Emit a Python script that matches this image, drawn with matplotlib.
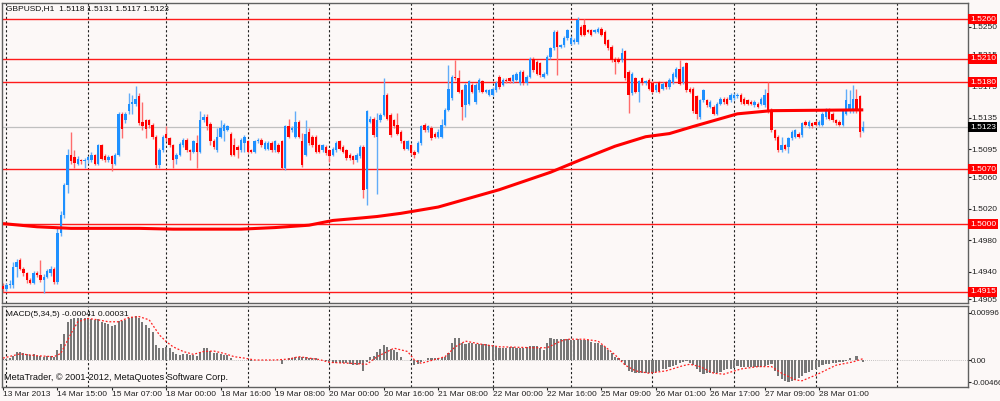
import matplotlib
matplotlib.use('Agg')
import matplotlib.pyplot as plt
import numpy as np

plt.rcParams['font.family'] = ['Liberation Sans', 'DejaVu Sans']

# GBPUSD H1 candles, prices in 1/10000 (bar 0 = 13 Mar 2013 23:00)
opens = [14922, 14918, 14923, 14923, 14946, 14955, 14944, 14938, 14930, 14926,
         14939, 14936, 14929, 14934, 14938, 14944, 14927, 14989, 15012, 15050,
         15088, 15085, 15077, 15082, 15080, 15081, 15081, 15088, 15077, 15100,
         15087, 15081, 15086, 15077, 15088, 15140, 15132, 15143, 15153, 15153,
         15163, 15130, 15132, 15132, 15126, 15111, 15075, 15094, 15115, 15109,
         15100, 15083, 15088, 15100, 15107, 15094, 15092, 15103, 15092, 15132,
         15136, 15127, 15105, 15094, 15111, 15118, 15120, 15115, 15100, 15098,
         15094, 15103, 15105, 15094, 15092, 15105, 15107, 15096, 15096, 15103,
         15094, 15100, 15105, 15071, 15124, 15119, 15111, 15130, 15105, 15088,
         15117, 15111, 15111, 15100, 15094, 15098, 15094, 15088, 15094, 15105,
         15098, 15094, 15088, 15086, 15081, 15086, 15098, 15045, 15130, 15134,
         15111, 15132, 15139, 15164, 15139, 15132, 15126, 15117, 15105, 15096,
         15100, 15092, 15092, 15103, 15126, 15119, 15122, 15115, 15111, 15111,
         15126, 15145, 15160, 15187, 15185, 15170, 15151, 15153, 15177, 15155,
         15170, 15181, 15168, 15164, 15164, 15170, 15187, 15177, 15183, 15185,
         15181, 15183, 15179, 15193, 15179, 15187, 15210, 15206, 15204, 15187,
         15191, 15212, 15223, 15244, 15225, 15227, 15236, 15229, 15231, 15231,
         15250, 15252, 15246, 15246, 15244, 15244, 15248, 15244, 15233, 15225,
         15210, 15210, 15208, 15219, 15193, 15166, 15185, 15168, 15185, 15179,
         15183, 15179, 15170, 15180, 15172, 15180, 15174, 15180, 15187, 15197,
         15180, 15204, 15172, 15172, 15162, 15136, 15157, 15157, 15149, 15149,
         15140, 15153, 15159, 15159, 15157, 15160, 15162, 15164, 15159, 15157,
         15155, 15151, 15153, 15153, 15151, 15166, 15145, 15119, 15111, 15094,
         15100, 15098, 15109, 15111, 15115, 15113, 15130, 15124, 15128, 15130,
         15126, 15126, 15136, 15145, 15140, 15132, 15130, 15126, 15140, 15143,
         15143, 15159, 15162, 15118]
highs = [14926, 14926, 14930, 14952, 14956, 14957, 14946, 14940, 14932, 14941,
         14941, 14955, 14937, 14944, 14947, 14946, 14997, 15017, 15052, 15095,
         15117, 15094, 15086, 15083, 15084, 15087, 15092, 15089, 15102, 15102,
         15089, 15088, 15088, 15090, 15142, 15142, 15142, 15166, 15164, 15175,
         15166, 15155, 15134, 15134, 15128, 15113, 15097, 15113, 15124, 15111,
         15102, 15090, 15104, 15110, 15110, 15096, 15107, 15113, 15143, 15140,
         15140, 15130, 15108, 15122, 15132, 15128, 15126, 15117, 15110, 15100,
         15109, 15113, 15107, 15096, 15107, 15109, 15109, 15105, 15105, 15105,
         15107, 15103, 15107, 15126, 15134, 15124, 15143, 15132, 15116, 15132,
         15122, 15113, 15113, 15102, 15102, 15100, 15096, 15098, 15105, 15107,
         15100, 15096, 15090, 15088, 15090, 15100, 15100, 15145, 15137, 15136,
         15141, 15141, 15185, 15166, 15141, 15134, 15141, 15119, 15107, 15107,
         15102, 15094, 15105, 15126, 15128, 15126, 15124, 15117, 15121, 15134,
         15147, 15202, 15189, 15208, 15196, 15172, 15179, 15183, 15179, 15179,
         15185, 15183, 15172, 15172, 15174, 15181, 15189, 15185, 15185, 15187,
         15191, 15193, 15195, 15195, 15189, 15212, 15212, 15208, 15206, 15193,
         15214, 15225, 15246, 15246, 15229, 15238, 15248, 15238, 15236, 15262,
         15252, 15260, 15248, 15248, 15248, 15250, 15250, 15246, 15235, 15227,
         15212, 15212, 15223, 15221, 15195, 15193, 15187, 15183, 15187, 15183,
         15185, 15181, 15179, 15182, 15180, 15182, 15185, 15193, 15199, 15208,
         15201, 15206, 15174, 15174, 15164, 15159, 15172, 15159, 15157, 15151,
         15155, 15161, 15161, 15161, 15166, 15166, 15166, 15166, 15161, 15159,
         15157, 15157, 15155, 15161, 15172, 15180, 15147, 15121, 15113, 15111,
         15102, 15111, 15119, 15121, 15117, 15130, 15132, 15132, 15130, 15132,
         15132, 15142, 15147, 15147, 15142, 15134, 15132, 15145, 15172, 15170,
         15176, 15172, 15164, 15131]
lows = [14915, 14916, 14920, 14920, 14934, 14942, 14935, 14926, 14924, 14924,
        14933, 14927, 14913, 14932, 14935, 14925, 14925, 14985, 15008, 15040,
        15077, 15071, 15075, 15077, 15071, 15078, 15079, 15075, 15075, 15081,
        15079, 15079, 15067, 15075, 15086, 15109, 15128, 15140, 15140, 15150,
        15126, 15120, 15109, 15122, 15108, 15072, 15072, 15092, 15106, 15098,
        15071, 15077, 15086, 15098, 15092, 15081, 15090, 15072, 15090, 15130,
        15120, 15100, 15095, 15092, 15109, 15106, 15118, 15087, 15087, 15084,
        15092, 15092, 15090, 15090, 15090, 15103, 15098, 15094, 15094, 15092,
        15092, 15090, 15070, 15069, 15109, 15117, 15109, 15109, 15073, 15086,
        15100, 15098, 15090, 15090, 15092, 15088, 15079, 15086, 15092, 15094,
        15090, 15082, 15082, 15077, 15079, 15084, 15033, 15024, 15128, 15111,
        15039, 15130, 15137, 15132, 15111, 15122, 15113, 15103, 15094, 15094,
        15088, 15084, 15090, 15101, 15117, 15117, 15107, 15109, 15109, 15109,
        15124, 15143, 15158, 15183, 15166, 15132, 15136, 15151, 15166, 15153,
        15168, 15166, 15166, 15162, 15162, 15168, 15172, 15175, 15179, 15179,
        15179, 15181, 15177, 15177, 15177, 15185, 15193, 15189, 15187, 15185,
        15189, 15210, 15221, 15189, 15223, 15225, 15234, 15227, 15229, 15229,
        15238, 15238, 15242, 15238, 15242, 15242, 15238, 15227, 15221, 15206,
        15191, 15204, 15206, 15183, 15141, 15164, 15166, 15155, 15177, 15177,
        15170, 15166, 15168, 15166, 15170, 15172, 15172, 15178, 15185, 15176,
        15178, 15168, 15166, 15141, 15134, 15134, 15155, 15149, 15147, 15138,
        15138, 15151, 15153, 15151, 15155, 15158, 15160, 15153, 15151, 15151,
        15151, 15149, 15147, 15151, 15149, 15141, 15117, 15107, 15092, 15092,
        15094, 15090, 15107, 15109, 15109, 15111, 15124, 15122, 15122, 15124,
        15124, 15124, 15134, 15132, 15130, 15126, 15124, 15124, 15138, 15141,
        15141, 15141, 15111, 15117]
closes = [14918, 14923, 14925, 14946, 14953, 14944, 14938, 14929, 14926, 14939,
          14936, 14929, 14934, 14941, 14944, 14927, 14989, 15012, 15050, 15088,
          15080, 15078, 15083, 15080, 15081, 15085, 15088, 15077, 15100, 15083,
          15081, 15085, 15077, 15088, 15140, 15121, 15140, 15153, 15155, 15159,
          15128, 15124, 15121, 15126, 15111, 15075, 15094, 15111, 15109, 15100,
          15081, 15088, 15102, 15107, 15094, 15092, 15105, 15092, 15132, 15136,
          15124, 15105, 15098, 15111, 15122, 15126, 15124, 15088, 15088, 15094,
          15107, 15111, 15092, 15092, 15105, 15107, 15100, 15103, 15103, 15094,
          15105, 15092, 15071, 15124, 15111, 15122, 15130, 15111, 15075, 15115,
          15103, 15100, 15092, 15092, 15100, 15090, 15086, 15096, 15103, 15096,
          15092, 15084, 15084, 15081, 15088, 15098, 15043, 15143, 15134, 15113,
          15132, 15139, 15164, 15134, 15113, 15124, 15115, 15105, 15096, 15105,
          15090, 15088, 15103, 15124, 15119, 15124, 15109, 15111, 15117, 15126,
          15145, 15172, 15187, 15185, 15168, 15149, 15177, 15181, 15168, 15177,
          15183, 15168, 15170, 15170, 15172, 15179, 15174, 15183, 15181, 15181,
          15189, 15191, 15193, 15179, 15187, 15210, 15196, 15191, 15189, 15191,
          15212, 15223, 15244, 15225, 15227, 15236, 15246, 15236, 15233, 15259,
          15240, 15240, 15244, 15240, 15246, 15248, 15240, 15229, 15223, 15208,
          15206, 15206, 15217, 15185, 15164, 15191, 15168, 15181, 15179, 15181,
          15172, 15168, 15177, 15168, 15178, 15174, 15183, 15191, 15197, 15178,
          15199, 15170, 15168, 15143, 15140, 15157, 15170, 15151, 15155, 15140,
          15153, 15159, 15155, 15153, 15164, 15164, 15164, 15155, 15153, 15153,
          15153, 15155, 15149, 15159, 15164, 15143, 15119, 15109, 15094, 15100,
          15096, 15109, 15117, 15119, 15111, 15128, 15126, 15130, 15124, 15126,
          15130, 15140, 15145, 15134, 15132, 15128, 15126, 15143, 15157, 15153,
          15159, 15143, 15117, 15123]

# moving average (thick red line), read at a few bars
ma_bars = [0, 10, 20, 30, 40, 50, 60, 70, 80, 90, 97, 105, 110, 117, 128, 146,
           161, 170, 180, 189, 196, 203, 216, 226, 253]
ma_vals = [15001, 14997, 14995, 14995, 14995, 14994, 14994, 14994, 14996, 14999,
           15005, 15008, 15010, 15014, 15022, 15044, 15066, 15082, 15099, 15111,
           15115, 15124, 15140, 15144, 15145]

# MACD(5,34,5) histogram, in 1/10000
macd = [3, 3, 5, 9, 16, 16, 14, 12, 11, 12,
        9, 8, 7, 9, 8, 7, 21, 33, 56, 81,
        87, 90, 88, 90, 88, 88, 87, 85, 87, 81,
        78, 76, 73, 74, 83, 83, 85, 88, 92, 93,
        90, 81, 74, 67, 60, 32, 26, 26, 28, 25,
        18, 12, 11, 13, 12, 11, 11, 9, 18, 25,
        25, 19, 14, 14, 12, 11, 11, 5, 1, 1,
        1, 1, -1, -2, -1, -1, 1, 0, 0, 0,
        -1, 0, -9, 0, 4, 5, 7, 7, 7, 7,
        5, 5, 4, 1, 0, -2, -5, -7, -7, -6,
        -6, -7, -9, -11, -11, -9, -23, -5, 7, 9,
        18, 23, 32, 28, 23, 21, 16, 7, 1, 0,
        -2, -11, -9, -5, 0, 5, 4, 4, 4, 5,
        7, 14, 35, 46, 47, 37, 33, 35, 35, 34,
        33, 33, 33, 32, 30, 28, 26, 26, 26, 28,
        28, 26, 25, 25, 28, 30, 30, 30, 25, 21,
        35, 46, 44, 44, 44, 44, 44, 42, 42, 44,
        42, 42, 42, 39, 37, 35, 32, 28, 21, 14,
        7, 4, -2, -11, -23, -25, -28, -28, -28, -28,
        -28, -27, -25, -23, -20, -18, -14, -12, -11, -7,
        -5, -2, -7, -11, -18, -25, -30, -28, -28, -28,
        -28, -25, -21, -19, -18, -16, -13, -14, -14, -14,
        -14, -14, -14, -14, -13, -11, -9, -23, -33, -40,
        -44, -46, -44, -42, -39, -34, -28, -25, -21, -18,
        -14, -11, -9, -8, -7, -6, -4, -4, -2, 4,
        1, 9, 1, -4]
sig_bars = [0, 5, 10, 15, 17, 20, 22, 25, 28, 31, 34, 37, 40, 43, 46, 48, 50, 53,
            56, 59, 62, 65, 68, 71, 74, 80, 84, 87, 93, 96, 102, 107, 110, 115,
            119, 121, 123, 127, 130, 133, 136, 141, 146, 156, 160, 164, 166, 171,
            175, 180, 183, 186, 190, 195, 200, 202, 205, 209, 212, 217, 222, 226,
            229, 233, 235, 239, 245, 250, 253]
sig_vals = [4, 13, 9, 7, 14, 56, 81, 88, 85, 81, 81, 90, 92, 85, 53, 39, 28, 18,
            12, 18, 19, 14, 7, 4, 0, 0, 2, 7, 1, -5, -7, -9, 7, 25,
            18, 0, -7, 1, 7, 28, 40, 33, 28, 26, 26, 40, 44, 44,
            40, 11, -11, -23, -28, -23, -12, -9, -14, -28, -30, -19, -14, -14,
            -28, -42, -44, -32, -11, -4, 3]

# horizontal levels drawn on the chart
levels = [1.5260, 1.5210, 1.5180, 1.5070, 1.5000, 1.4915]
last_price = 1.5123
price_ticks = [1.5250, 1.5215, 1.5175, 1.5135, 1.5095, 1.5060, 1.5020, 1.4980, 1.4940, 1.4905]
macd_ticks = [0.00996, 0.0, -0.00466]
macd_tick_labels = ['0.00996', '0.00', '-0.00466']
time_bars = [0, 16, 32, 48, 64, 80, 96, 112, 128, 144, 160, 176, 192, 208, 224, 240]
time_labels = ['13 Mar 2013', '14 Mar 15:00', '15 Mar 07:00', '18 Mar 00:00',
               '18 Mar 16:00', '19 Mar 08:00', '20 Mar 00:00', '20 Mar 16:00',
               '21 Mar 08:00', '22 Mar 00:00', '22 Mar 16:00', '25 Mar 09:00',
               '26 Mar 01:00', '26 Mar 17:00', '27 Mar 09:00', '28 Mar 01:00']
grid_bars = [1, 25, 48, 72, 96, 120, 144, 167, 191, 215, 239, 263]

bg = '#fcf8f7'
edge = '#606060'
fs = 6

o = np.array(opens) / 1e4
h = np.array(highs) / 1e4
l = np.array(lows) / 1e4
c = np.array(closes) / 1e4
x = np.arange(len(o))
up = c >= o

fig = plt.figure(figsize=(10, 4.01), dpi=100, facecolor=bg)
ax = fig.add_axes([0.002, 0.2444, 0.966, 0.7481], facecolor=bg)
ax2 = fig.add_axes([0.002, 0.0349, 0.966, 0.2020], facecolor=bg, sharex=ax)

# --- price panel ---
for g in grid_bars:
    for a in (ax, ax2):
        a.axvline(g, color='#202020', lw=0.8, ls=(0, (2, 2)), zorder=0.5)
for lv in levels:
    ax.axhline(lv, color='#ff1a1a', lw=1.0, zorder=1)
ax.axhline(last_price, color='#c0c0c0', lw=0.9, zorder=0.8)

# wicks then bodies
lo = np.minimum(l, np.minimum(o, c))
hi = np.maximum(h, np.maximum(o, c))
ax.vlines(x[up], lo[up], hi[up], color='#62acf8', lw=1.0, zorder=2)
ax.vlines(x[~up], lo[~up], hi[~up], color='#ff6c6c', lw=1.0, zorder=2)
body = np.maximum(np.abs(c - o), 0.00012)
ax.bar(x[up], body[up], bottom=np.minimum(o, c)[up], width=0.72, color='#1e90ff',
       lw=0, zorder=3)
ax.bar(x[~up], body[~up], bottom=np.minimum(o, c)[~up], width=0.72, color='#ff0000',
       lw=0, zorder=3)

ax.plot(ma_bars, np.array(ma_vals) / 1e4, color='#ff0000', lw=2.2, zorder=4,
        solid_capstyle='butt', solid_joinstyle='round')

ax.set_ylim(1.49005, 1.52803)
ax.set_xlim(-0.3, 283.8)
ax.yaxis.tick_right()
ax.set_yticks(price_ticks)
ax.set_yticklabels(['%.4f' % t for t in price_ticks])
ax.tick_params(axis='y', direction='out', length=2, width=0.8, pad=0.5,
               labelsize=fs, colors='#202020')
ax.tick_params(axis='x', bottom=False, labelbottom=False)

# level price tags on the right
for lv in levels:
    ax.text(1.002, lv, '%.4f' % lv, transform=ax.get_yaxis_transform(), ha='left',
            va='center', fontsize=fs, color='white', clip_on=False, zorder=10,
            bbox=dict(boxstyle='square,pad=0.18', fc='#ff0000', ec='none'))
ax.text(1.002, last_price, '%.4f' % last_price, transform=ax.get_yaxis_transform(),
        ha='left', va='center', fontsize=fs, color='white', clip_on=False, zorder=10,
        bbox=dict(boxstyle='square,pad=0.18', fc='#000000', ec='none'))

fig.text(0.006, 1 - 9 / 401, 'GBPUSD,H1  1.5118 1.5131 1.5117 1.5123', fontsize=fs,
         va='center', ha='left', color='#101010')

# --- MACD panel ---
ax2.axhline(0, color='#909090', lw=0.5, ls=(0, (1, 2)), zorder=1)
ax2.bar(x, np.array(macd) / 1e4, width=0.62, color='#777777', lw=0, zorder=2)
ax2.plot(sig_bars, np.array(sig_vals) / 1e4, color='#ff2020', lw=0.9,
         ls=(0, (1.5, 1.5)), zorder=3)
ax2.set_ylim(-0.00572, 0.01144)
ax2.yaxis.tick_right()
ax2.set_yticks(macd_ticks)
ax2.set_yticklabels(macd_tick_labels)
ax2.tick_params(axis='y', direction='out', length=2, width=0.8, pad=0.3,
                labelsize=fs - 0.2, colors='#202020')
ax2.set_xticks(time_bars)
ax2.set_xticklabels(time_labels, ha='left')
ax2.tick_params(axis='x', direction='out', length=2, width=0.8, pad=1,
                labelsize=fs, colors='#202020')

fig.text(0.006, 1 - 314 / 401, 'MACD(5,34,5) -0.00041 0.00031', fontsize=fs,
         va='center', ha='left', color='#101010')
fig.text(0.004, 1 - 378 / 401, 'MetaTrader, \u00a9 2001-2012, MetaQuotes Software Corp.',
         fontsize=fs + 0.6, va='center', ha='left', color='#101010')

for a in (ax, ax2):
    for s in a.spines.values():
        s.set_color(edge)
        s.set_linewidth(1.0)

fig.savefig('out.png', dpi=100, facecolor=bg)
